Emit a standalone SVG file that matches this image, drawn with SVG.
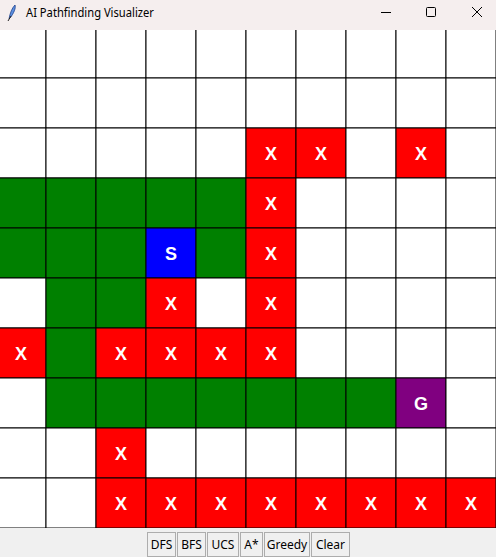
<svg xmlns="http://www.w3.org/2000/svg" width="496" height="557" viewBox="0 0 496 557">
<style>
.w{fill:#ffffff}.g{fill:#008000}.r{fill:#ff0000}.s{fill:#0000ff}.p{fill:#800080}
.cell{stroke:#000;stroke-width:1}
.lbl{font-family:"Liberation Sans",Arial,sans-serif;font-weight:bold;font-size:18px;fill:#fff;text-anchor:middle}
.btn rect{fill:#f0f0f0;stroke:#adadad;stroke-width:1}
.btn text{font-family:"Noto Sans","DejaVu Sans",sans-serif;font-size:12px;fill:#000;text-anchor:middle}
</style>
<rect x="0" y="0" width="496" height="557" fill="#f0f0f0"/>
<g id="grid">
<!-- row 0 -->
<rect class="cell w" x="-4" y="28" width="50" height="50"/><rect class="cell w" x="46" y="28" width="50" height="50"/><rect class="cell w" x="96" y="28" width="50" height="50"/><rect class="cell w" x="146" y="28" width="50" height="50"/><rect class="cell w" x="196" y="28" width="50" height="50"/><rect class="cell w" x="246" y="28" width="50" height="50"/><rect class="cell w" x="296" y="28" width="50" height="50"/><rect class="cell w" x="346" y="28" width="50" height="50"/><rect class="cell w" x="396" y="28" width="50" height="50"/><rect class="cell w" x="446" y="28" width="50" height="50"/>
<!-- row 1 -->
<rect class="cell w" x="-4" y="78" width="50" height="50"/><rect class="cell w" x="46" y="78" width="50" height="50"/><rect class="cell w" x="96" y="78" width="50" height="50"/><rect class="cell w" x="146" y="78" width="50" height="50"/><rect class="cell w" x="196" y="78" width="50" height="50"/><rect class="cell w" x="246" y="78" width="50" height="50"/><rect class="cell w" x="296" y="78" width="50" height="50"/><rect class="cell w" x="346" y="78" width="50" height="50"/><rect class="cell w" x="396" y="78" width="50" height="50"/><rect class="cell w" x="446" y="78" width="50" height="50"/>
<!-- row 2 -->
<rect class="cell w" x="-4" y="128" width="50" height="50"/><rect class="cell w" x="46" y="128" width="50" height="50"/><rect class="cell w" x="96" y="128" width="50" height="50"/><rect class="cell w" x="146" y="128" width="50" height="50"/><rect class="cell w" x="196" y="128" width="50" height="50"/><rect class="cell r" x="246" y="128" width="50" height="50"/><rect class="cell r" x="296" y="128" width="50" height="50"/><rect class="cell w" x="346" y="128" width="50" height="50"/><rect class="cell r" x="396" y="128" width="50" height="50"/><rect class="cell w" x="446" y="128" width="50" height="50"/>
<!-- row 3 -->
<rect class="cell g" x="-4" y="178" width="50" height="50"/><rect class="cell g" x="46" y="178" width="50" height="50"/><rect class="cell g" x="96" y="178" width="50" height="50"/><rect class="cell g" x="146" y="178" width="50" height="50"/><rect class="cell g" x="196" y="178" width="50" height="50"/><rect class="cell r" x="246" y="178" width="50" height="50"/><rect class="cell w" x="296" y="178" width="50" height="50"/><rect class="cell w" x="346" y="178" width="50" height="50"/><rect class="cell w" x="396" y="178" width="50" height="50"/><rect class="cell w" x="446" y="178" width="50" height="50"/>
<!-- row 4 -->
<rect class="cell g" x="-4" y="228" width="50" height="50"/><rect class="cell g" x="46" y="228" width="50" height="50"/><rect class="cell g" x="96" y="228" width="50" height="50"/><rect class="cell s" x="146" y="228" width="50" height="50"/><rect class="cell g" x="196" y="228" width="50" height="50"/><rect class="cell r" x="246" y="228" width="50" height="50"/><rect class="cell w" x="296" y="228" width="50" height="50"/><rect class="cell w" x="346" y="228" width="50" height="50"/><rect class="cell w" x="396" y="228" width="50" height="50"/><rect class="cell w" x="446" y="228" width="50" height="50"/>
<!-- row 5 -->
<rect class="cell w" x="-4" y="278" width="50" height="50"/><rect class="cell g" x="46" y="278" width="50" height="50"/><rect class="cell g" x="96" y="278" width="50" height="50"/><rect class="cell r" x="146" y="278" width="50" height="50"/><rect class="cell w" x="196" y="278" width="50" height="50"/><rect class="cell r" x="246" y="278" width="50" height="50"/><rect class="cell w" x="296" y="278" width="50" height="50"/><rect class="cell w" x="346" y="278" width="50" height="50"/><rect class="cell w" x="396" y="278" width="50" height="50"/><rect class="cell w" x="446" y="278" width="50" height="50"/>
<!-- row 6 -->
<rect class="cell r" x="-4" y="328" width="50" height="50"/><rect class="cell g" x="46" y="328" width="50" height="50"/><rect class="cell r" x="96" y="328" width="50" height="50"/><rect class="cell r" x="146" y="328" width="50" height="50"/><rect class="cell r" x="196" y="328" width="50" height="50"/><rect class="cell r" x="246" y="328" width="50" height="50"/><rect class="cell w" x="296" y="328" width="50" height="50"/><rect class="cell w" x="346" y="328" width="50" height="50"/><rect class="cell w" x="396" y="328" width="50" height="50"/><rect class="cell w" x="446" y="328" width="50" height="50"/>
<!-- row 7 -->
<rect class="cell w" x="-4" y="378" width="50" height="50"/><rect class="cell g" x="46" y="378" width="50" height="50"/><rect class="cell g" x="96" y="378" width="50" height="50"/><rect class="cell g" x="146" y="378" width="50" height="50"/><rect class="cell g" x="196" y="378" width="50" height="50"/><rect class="cell g" x="246" y="378" width="50" height="50"/><rect class="cell g" x="296" y="378" width="50" height="50"/><rect class="cell g" x="346" y="378" width="50" height="50"/><rect class="cell p" x="396" y="378" width="50" height="50"/><rect class="cell w" x="446" y="378" width="50" height="50"/>
<!-- row 8 -->
<rect class="cell w" x="-4" y="428" width="50" height="50"/><rect class="cell w" x="46" y="428" width="50" height="50"/><rect class="cell r" x="96" y="428" width="50" height="50"/><rect class="cell w" x="146" y="428" width="50" height="50"/><rect class="cell w" x="196" y="428" width="50" height="50"/><rect class="cell w" x="246" y="428" width="50" height="50"/><rect class="cell w" x="296" y="428" width="50" height="50"/><rect class="cell w" x="346" y="428" width="50" height="50"/><rect class="cell w" x="396" y="428" width="50" height="50"/><rect class="cell w" x="446" y="428" width="50" height="50"/>
<!-- row 9 -->
<rect class="cell w" x="-4" y="478" width="50" height="50"/><rect class="cell w" x="46" y="478" width="50" height="50"/><rect class="cell r" x="96" y="478" width="50" height="50"/><rect class="cell r" x="146" y="478" width="50" height="50"/><rect class="cell r" x="196" y="478" width="50" height="50"/><rect class="cell r" x="246" y="478" width="50" height="50"/><rect class="cell r" x="296" y="478" width="50" height="50"/><rect class="cell r" x="346" y="478" width="50" height="50"/><rect class="cell r" x="396" y="478" width="50" height="50"/><rect class="cell r" x="446" y="478" width="50" height="50"/>
</g>
<g id="labels" class="lbl">
<text x="271" y="160">X</text><text x="321" y="160">X</text><text x="421" y="160">X</text>
<text x="271" y="210">X</text>
<text x="171" y="260">S</text><text x="271" y="260">X</text>
<text x="171" y="310">X</text><text x="271" y="310">X</text>
<text x="21" y="360">X</text><text x="121" y="360">X</text><text x="171" y="360">X</text><text x="221" y="360">X</text><text x="271" y="360">X</text>
<text x="421" y="410">G</text>
<text x="121" y="460">X</text>
<text x="121" y="510">X</text><text x="171" y="510">X</text><text x="221" y="510">X</text><text x="271" y="510">X</text><text x="321" y="510">X</text><text x="371" y="510">X</text><text x="421" y="510">X</text><text x="471" y="510">X</text>
</g>
<rect x="0" y="528" width="496" height="29" fill="#f0f0f0"/>
<g id="titlebar">
<rect x="0" y="0" width="496" height="30" fill="#f5eeee"/>
<path d="M9 19 C10 13 12 8 15 5 C16 8 14 13 10 18 Z" fill="#5a8fe0" stroke="#1e3f8a" stroke-width="0.8"/>
<path d="M8 21 L11 16" stroke="#222" stroke-width="1"/>
<text x="26" y="17" font-family="'Noto Sans','DejaVu Sans',sans-serif" font-size="12" fill="#000" textLength="128" lengthAdjust="spacingAndGlyphs">AI Pathfinding Visualizer</text>
<path d="M381 12.5 H391" stroke="#000" stroke-width="1"/>
<rect x="426.5" y="7.5" width="9" height="9" rx="1" fill="none" stroke="#000" stroke-width="1"/>
<path d="M472 7 L482 17 M482 7 L472 17" stroke="#000" stroke-width="1"/>
</g>
<g id="buttons" class="btn">
<g id="btn-dfs"><rect x="147.5" y="532.5" width="28" height="24"/><text x="161.5" y="549">DFS</text></g>
<g id="btn-bfs"><rect x="177.5" y="532.5" width="28" height="24"/><text x="191.5" y="549">BFS</text></g>
<g id="btn-ucs"><rect x="207.5" y="532.5" width="31" height="24"/><text x="223" y="549">UCS</text></g>
<g id="btn-astar"><rect x="240.5" y="532.5" width="22" height="24"/><text x="251.5" y="549">A*</text></g>
<g id="btn-greedy"><rect x="264.5" y="532.5" width="45" height="24"/><text x="287" y="549">Greedy</text></g>
<g id="btn-clear"><rect x="311.5" y="532.5" width="38" height="24"/><text x="330.5" y="549">Clear</text></g>
</g>
</svg>
